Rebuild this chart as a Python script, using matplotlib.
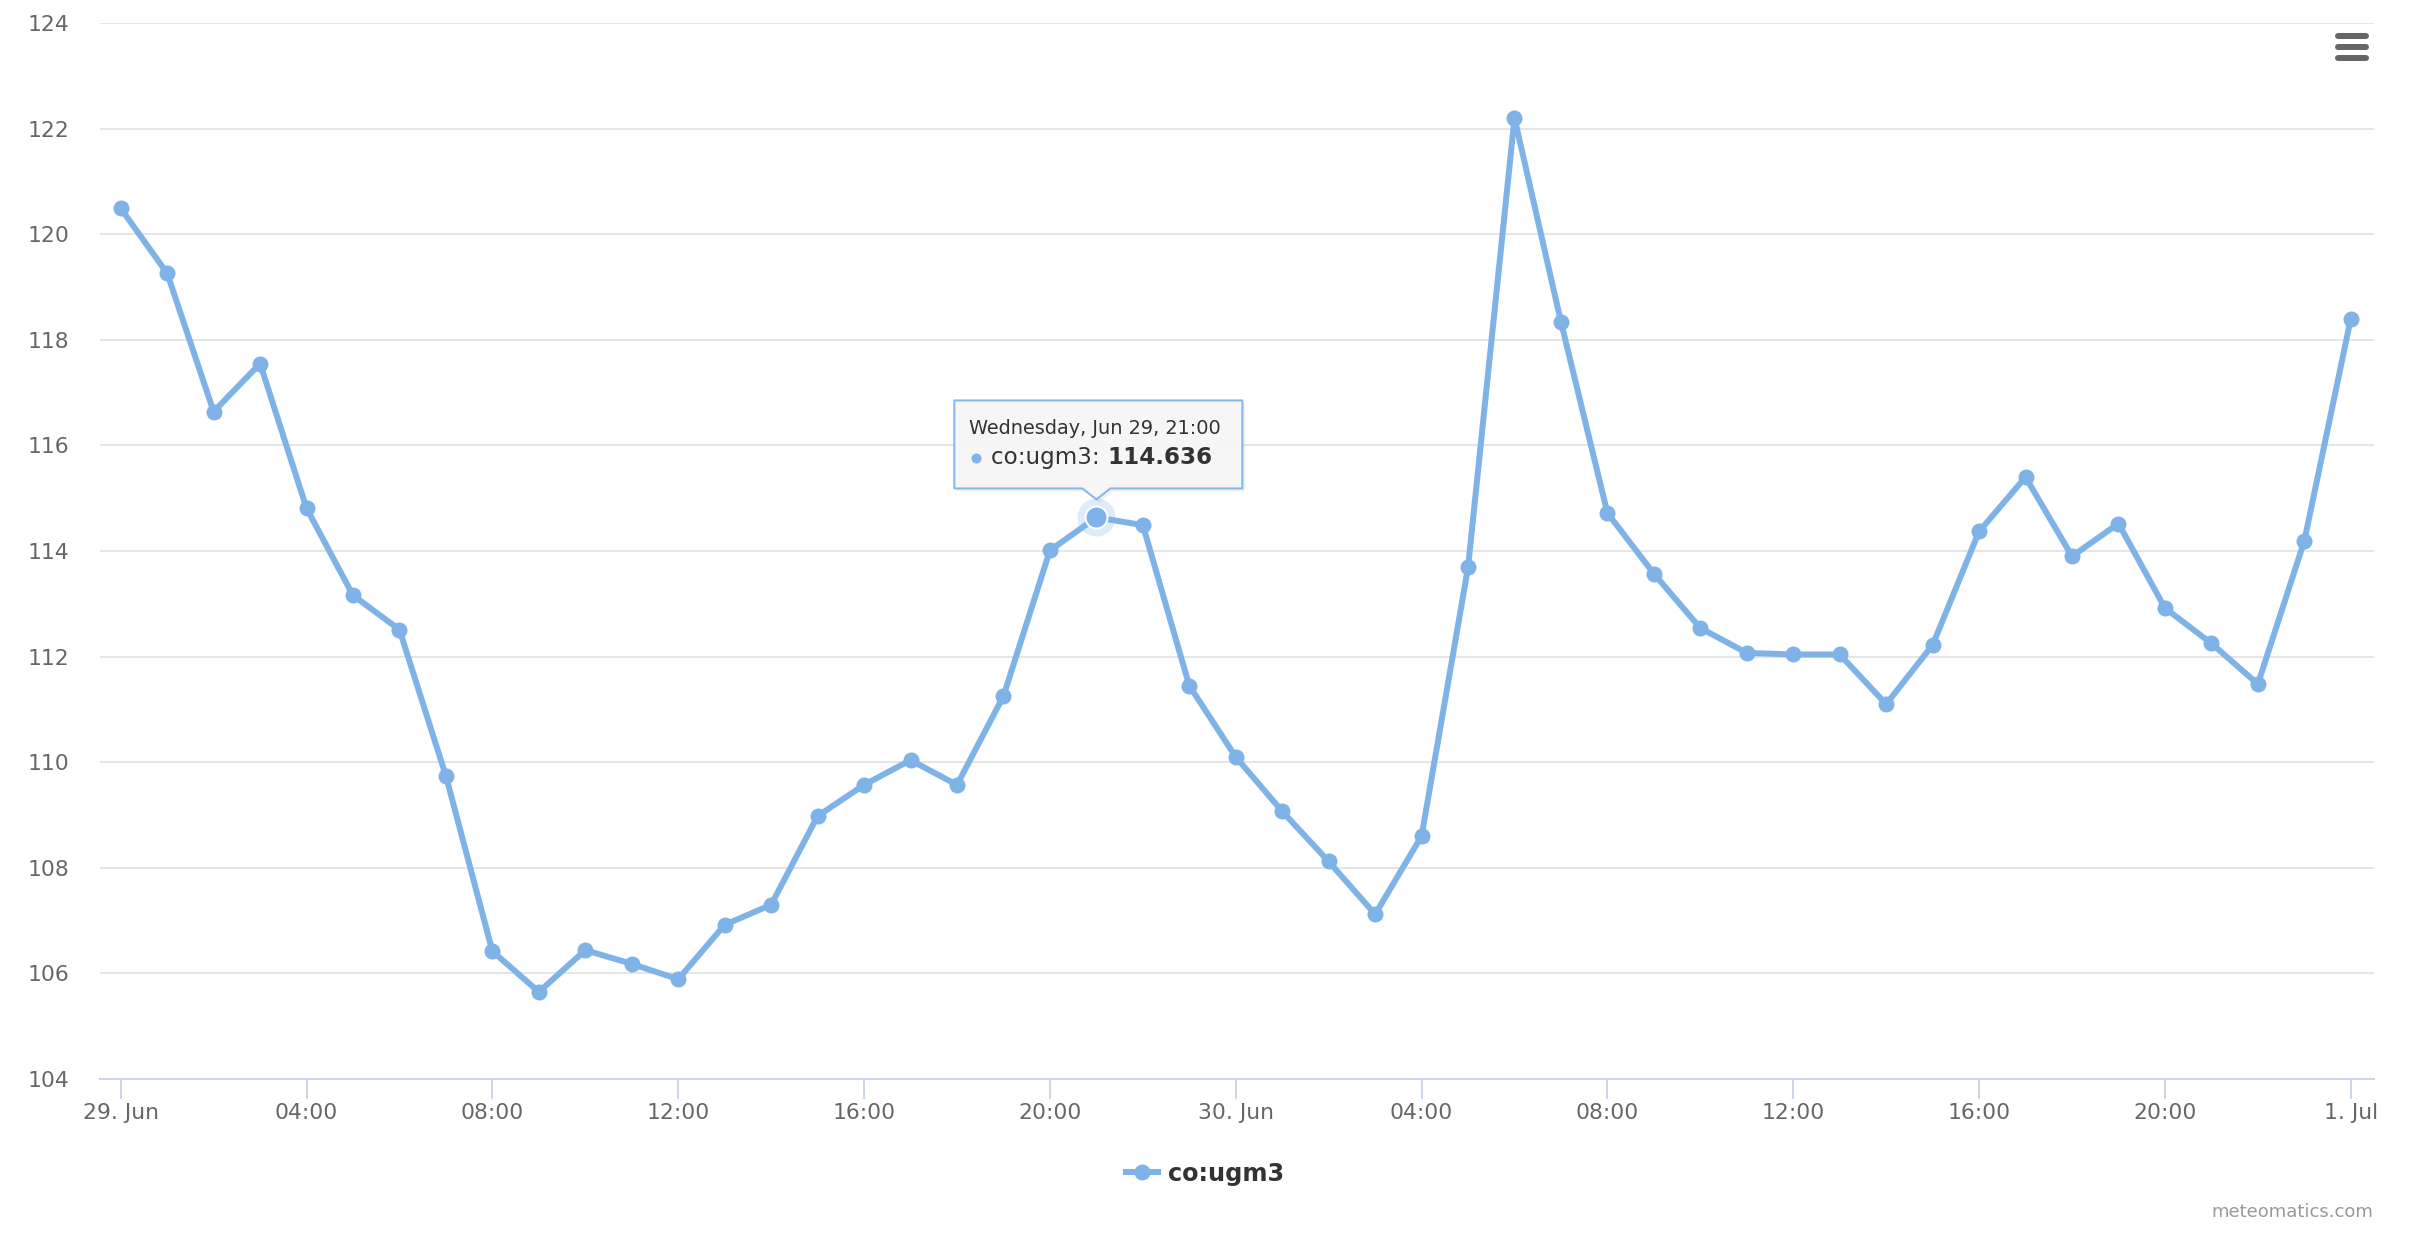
"""
CO concentration line chart (meteomatics style), hourly values 29 Jun - 1 Jul.
"""
import numpy as np
import pandas as pd

import matplotlib
matplotlib.use('Agg')
import matplotlib.pyplot as plt
from matplotlib.lines import Line2D
from matplotlib.patches import Polygon

# --- data -------------------------------------------------------------------
series_name = 'co:ugm3'
start_time = pd.Timestamp('2022-06-29 00:00')
hours = list(range(49))
co_values = [
    120.49, 119.26, 116.64, 117.55, 114.81, 113.16, 112.51, 109.74, 106.42, 105.65,
    106.44, 106.18, 105.89, 106.92, 107.30, 108.98, 109.57, 110.04, 109.57, 111.25,
    114.01, 114.636, 114.49, 111.45, 110.10, 109.07, 108.12, 107.12, 108.60, 113.69,
    122.20, 118.34, 114.72, 113.57, 112.54, 112.07, 112.04, 112.04, 111.10, 112.22,
    114.37, 115.40, 113.90, 114.52, 112.92, 112.25, 111.48, 114.19, 118.40,
]
x_ticks = [0, 4, 8, 12, 16, 20, 24, 28, 32, 36, 40, 44, 48]
x_tick_labels = ['29. Jun', '04:00', '08:00', '12:00', '16:00', '20:00', '30. Jun',
                 '04:00', '08:00', '12:00', '16:00', '20:00', '1. Jul']
y_ticks = [104, 106, 108, 110, 112, 114, 116, 118, 120, 122, 124]
hover_index = 21

# --- style ------------------------------------------------------------------
W, H, DPI = 2436, 1236, 200
PX = 72.0 / DPI            # one pixel in points
LINE_COLOR = '#7fb3e8'
LABEL_COLOR = '#666666'
plt.rcParams['font.family'] = ['DejaVu Sans']

fig = plt.figure(figsize=(W / DPI, H / DPI), dpi=DPI)
ax = fig.add_axes([100 / W, 1 - 1079 / H, (2374 - 100) / W, (1079 - 23) / H])

ax.plot(hours, co_values, color=LINE_COLOR, lw=6 * PX, marker='o',
        markersize=16 * PX, markeredgewidth=0, zorder=3, clip_on=False)

ax.set_xlim(-0.4456, 48.50)
ax.set_ylim(104, 124)
ax.set_xticks(x_ticks)
ax.set_xticklabels(x_tick_labels)
ax.set_yticks(y_ticks)
ax.set_yticklabels([str(v) for v in y_ticks])

for side in ['top', 'right', 'left']:
    ax.spines[side].set_visible(False)
ax.spines['bottom'].set_color('#ccd6eb')
ax.spines['bottom'].set_linewidth(2 * PX)
ax.spines['bottom'].set_zorder(2.6)

ax.grid(axis='y', color='#e6e6e6', lw=2 * PX, zorder=0)
ax.set_axisbelow(True)
ax.tick_params(axis='y', length=0, pad=11, labelsize=7.9, labelcolor=LABEL_COLOR)
ax.tick_params(axis='x', length=20 * PX, width=2 * PX, color='#ccd6eb', pad=1.5,
               labelsize=7.9, labelcolor=LABEL_COLOR)
# last label kept inside the chart, as the reference does
ax.get_xticklabels()[-1].set_horizontalalignment('center')

# --- hovered point (halo + enlarged marker) -------------------------------------
hx, hy = hours[hover_index], co_values[hover_index]
ax.plot([hx], [hy], 'o', color=LINE_COLOR, alpha=0.25, markersize=38 * PX,
        markeredgewidth=0, zorder=4)
ax.plot([hx], [hy], 'o', color=LINE_COLOR, markersize=22 * PX,
        markeredgecolor='white', markeredgewidth=2 * PX, zorder=5)

# --- tooltip (pixel coordinates, origin bottom-left) ---------------------------
px, py = ax.transData.transform((hx, hy))
box_w, box_h = 288, 88
left = px - 142
bottom = py + 18 + 11
top = bottom + box_h
notch = [(left, bottom), (px - 14, bottom), (px, py + 18), (px + 14, bottom),
         (left + box_w, bottom), (left + box_w, top), (left, top)]
to_fig = lambda pts: [(a / W, b / H) for a, b in pts]

shadow = Polygon(to_fig([(a + 3, b - 3) for a, b in notch]), closed=True,
                 transform=fig.transFigure, facecolor='black', alpha=0.06,
                 edgecolor='none', zorder=9)
tip = Polygon(to_fig(notch), closed=True, transform=fig.transFigure,
              facecolor='#f7f7f7', alpha=0.95, edgecolor=LINE_COLOR,
              lw=2 * PX, joinstyle='round', zorder=10)
fig.add_artist(shadow)
fig.add_artist(tip)

stamp = start_time + pd.Timedelta(hours=hx)
header = stamp.strftime('%A, %b %d, %H:%M')
fig.text((left + 15) / W, (top - 34) / H, header, fontsize=6.95,
         color='#333333', va='baseline', zorder=11)
fig.add_artist(Line2D([(left + 22) / W], [(top - 58) / H], marker='o',
                      markersize=10 * PX, color=LINE_COLOR,
                      markeredgewidth=0, transform=fig.transFigure, zorder=11))
t1 = fig.text((left + 37) / W, (top - 64) / H, f'{series_name}: ', fontsize=8.3,
              color='#333333', va='baseline', zorder=11)
renderer = fig.canvas.get_renderer()
bb = t1.get_window_extent(renderer=renderer)
fig.text(bb.x1 / W, (top - 64) / H, f'{hy:.3f}', fontsize=8.3,
         fontweight='bold', color='#333333', va='baseline', zorder=11)

# --- legend -----------------------------------------------------------------
ly = 1 - 1172 / H
fig.add_artist(Line2D([1126 / W, 1158 / W], [ly, ly], color=LINE_COLOR,
                      lw=6 * PX, transform=fig.transFigure))
fig.add_artist(Line2D([1142 / W], [ly], marker='o', markersize=16 * PX,
                      color=LINE_COLOR, markeredgewidth=0,
                      transform=fig.transFigure))
fig.text(1168 / W, ly, series_name, fontsize=8.64, fontweight='bold',
         color='#333333', va='center_baseline')

# --- credits and menu icon ------------------------------------------------------
fig.text(2373 / W, 1 - 1217 / H, 'meteomatics.com', ha='right', va='baseline',
         fontsize=6.5, color='#999999')
for yy in [36, 47, 58]:
    fig.add_artist(Line2D([2338 / W, 2366 / W], [1 - yy / H, 1 - yy / H],
                          color='#666666', lw=6 * PX, solid_capstyle='round',
                          transform=fig.transFigure))

plt.savefig('out.png', dpi=DPI)
plt.close()
